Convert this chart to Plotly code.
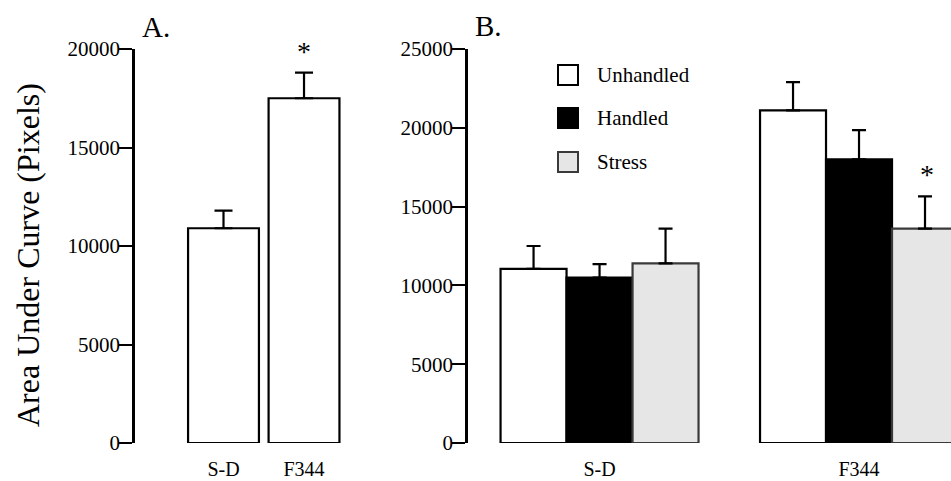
import plotly.graph_objects as go

# ---------------- data ----------------
groups_a = ["S-D", "F344"]
auc_a = [10900, 17500]
sem_a = [900, 1300]

groups_b = ["S-D", "F344"]
conditions = ["Unhandled", "Handled", "Stress"]
auc_unhandled = [11050, 21100]
auc_handled = [10500, 18000]
auc_stress = [11400, 13600]
sem_unhandled = [1450, 1800]
sem_handled = [850, 1850]
sem_stress = [2200, 2050]

yticks_a = [0, 5000, 10000, 15000, 20000]
yticks_b = [0, 5000, 10000, 15000, 20000, 25000]

# ---------------- styling ----------------
W, H = 951, 481
FONT = "Liberation Serif"
fills = {"Unhandled": "white", "Handled": "black", "Stress": "#e6e6e6"}
lines = {"Unhandled": "black", "Handled": "black", "Stress": "#3a3a3a"}
vals_b = {"Unhandled": auc_unhandled, "Handled": auc_handled, "Stress": auc_stress}
errs_b = {"Unhandled": sem_unhandled, "Handled": sem_handled, "Stress": sem_stress}


def px(x):
    return x / W


def py(y):
    return 1 - y / H


fig = go.Figure()

# Panel A
fig.add_trace(go.Bar(
    x=groups_a, y=auc_a, width=0.88,
    marker=dict(color="white", line=dict(color="black", width=2.2)),
    error_y=dict(type="data", array=sem_a, arrayminus=[0] * len(sem_a),
                 symmetric=False, color="black", thickness=2.2, width=9),
    xaxis="x", yaxis="y", showlegend=False, cliponaxis=False,
))

# Panel B
for c in conditions:
    fig.add_trace(go.Bar(
        x=groups_b, y=vals_b[c], name=c,
        marker=dict(color=fills[c], line=dict(color=lines[c], width=2.2)),
        error_y=dict(type="data", array=errs_b[c], arrayminus=[0] * len(errs_b[c]),
                     symmetric=False, color="black", thickness=2.2, width=7),
        xaxis="x2", yaxis="y2", showlegend=False, cliponaxis=False,
    ))

ydom = [py(443), py(49)]


def yax(ticks, rng):
    return dict(
        showline=True, linecolor="black", linewidth=2.5,
        ticks="outside", ticklen=14, tickwidth=2, tickcolor="black",
        showgrid=False, zeroline=False, automargin=False,
        tickfont=dict(family=FONT, size=21, color="black"),
        tickmode="array", tickvals=ticks, ticktext=[str(t) for t in ticks],
        ticklabelstandoff=-6,
        domain=ydom, range=rng,
    )


def xax(dom, rng, anchor):
    return dict(
        showline=False, showgrid=False, zeroline=False, ticks="", automargin=False,
        tickfont=dict(family=FONT, size=20, color="black"),
        type="category", ticklabelstandoff=12,
        domain=dom, range=rng, anchor=anchor,
    )


fig.update_layout(
    template="none",
    width=W, height=H,
    margin=dict(l=0, r=0, t=0, b=0, pad=0, autoexpand=False),
    paper_bgcolor="white", plot_bgcolor="white",
    barmode="group", bargap=0.237, bargroupgap=0,
    font=dict(family=FONT, size=20, color="black"),
    xaxis=xax([px(135), px(350)], [-1.099, 1.571], "y"),
    yaxis=dict(yax(yticks_a, [0, 20000]), anchor="x"),
    xaxis2=xax([px(468), 1], [-0.507, 1.3545], "y2"),
    yaxis2=dict(yax(yticks_b, [0, 25000]), anchor="x2"),
    showlegend=False,
)

ann = []
# panel letters
ann.append(dict(text="A.", x=px(156), y=py(27), xref="paper", yref="paper",
                showarrow=False, font=dict(family=FONT, size=29), xanchor="center", yanchor="middle"))
ann.append(dict(text="B.", x=px(488), y=py(26), xref="paper", yref="paper",
                showarrow=False, font=dict(family=FONT, size=29), xanchor="center", yanchor="middle"))
# y title
ann.append(dict(text="Area Under Curve (Pixels)", x=px(28), y=py(255), xref="paper", yref="paper",
                textangle=-90, showarrow=False, font=dict(family=FONT, size=32),
                xanchor="center", yanchor="middle"))
# significance markers
ann.append(dict(text="*", x="F344", y=auc_a[1] + sem_a[1], xref="x", yref="y",
                showarrow=False, font=dict(family=FONT, size=28), yanchor="bottom", yshift=4))
ann.append(dict(text="*", x=1 + 0.262, y=auc_stress[1] + sem_stress[1], xref="x2", yref="y2",
                showarrow=False, font=dict(family=FONT, size=28), yanchor="bottom", yshift=4))

# legend
legend_y = [75, 118, 162]
shapes = []
for c, yc in zip(conditions, legend_y):
    shapes.append(dict(type="rect", xref="paper", yref="paper",
                       x0=px(558), x1=px(578), y0=py(yc - 10), y1=py(yc + 10),
                       fillcolor=fills[c], line=dict(color=lines[c], width=2)))
    ann.append(dict(text=c, x=px(595), y=py(yc), xref="paper", yref="paper",
                    showarrow=False, font=dict(family=FONT, size=21),
                    xanchor="left", yanchor="middle"))

fig.update_layout(annotations=ann, shapes=shapes)
fig.write_html("out.html")
